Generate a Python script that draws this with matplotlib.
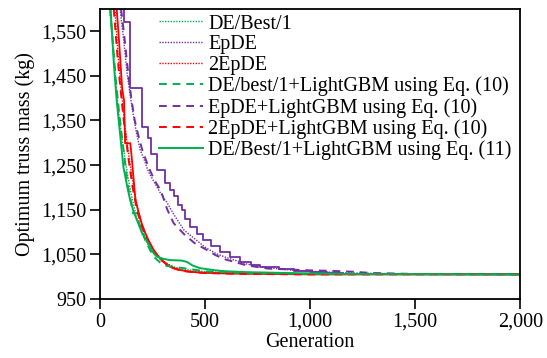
import matplotlib
matplotlib.use("Agg")
import matplotlib.pyplot as plt
from matplotlib.ticker import FuncFormatter

plt.rcParams['font.family'] = ['Liberation Serif', 'DejaVu Serif']

GREEN = '#00B050'
PURPLE = '#7030A0'
RED = '#FF0000'

# DE/Best/1 (green dotted)
de_x = [45, 60, 75, 90, 110, 130, 150, 175, 200, 230, 260, 300, 350, 400, 500, 600, 800, 1000, 1500, 2000]
de_y = [1600, 1520, 1430, 1360, 1290, 1230, 1180, 1130, 1095, 1070, 1050, 1033, 1022, 1016, 1011, 1009, 1007, 1006, 1005, 1005]

# EpDE (purple dotted)
ep_x = [95, 110, 130, 150, 170, 190, 210, 230, 260, 290, 320, 350, 400, 450, 500, 550, 600, 700, 800, 900, 1000, 1200, 1500, 2000]
ep_y = [1600, 1540, 1450, 1385, 1330, 1285, 1262, 1235, 1210, 1185, 1165, 1140, 1104, 1085, 1066, 1052, 1043, 1028, 1020, 1015, 1012, 1008, 1006, 1005]

# 2EpDE (red dotted)
ep2_x = [70, 85, 100, 120, 140, 160, 180, 200, 230, 260, 300, 350, 400, 500, 700, 1000, 2000]
ep2_y = [1600, 1500, 1420, 1330, 1260, 1200, 1150, 1115, 1080, 1055, 1035, 1020, 1013, 1009, 1006, 1005, 1005]

# DE/best/1+LightGBM Eq.(10) (green dashed)
deL_x = [48, 60, 75, 90, 110, 130, 145, 157, 181, 185, 206, 214, 254, 290, 317, 397, 500, 700, 1000, 2000]
deL_y = [1600, 1530, 1440, 1370, 1290, 1210, 1172, 1142, 1142, 1120, 1098, 1082, 1045, 1030, 1024, 1019, 1012, 1008, 1006, 1005]

# EpDE+LightGBM Eq.(10) (purple dashed)
epL_x = [100, 115, 135, 150, 165, 180, 200, 230, 260, 290, 320, 350, 400, 450, 500, 550, 600, 700, 800, 900, 1000, 1100, 1200, 1300, 1500, 2000]
epL_y = [1600, 1540, 1450, 1395, 1350, 1320, 1285, 1246, 1215, 1192, 1150, 1120, 1095, 1075, 1062, 1048, 1038, 1025, 1018, 1016, 1014, 1013, 1011, 1008, 1006, 1005]

# 2EpDE+LightGBM Eq.(10) (red dashed)
ep2L_x = [65, 80, 95, 115, 135, 155, 175, 200, 230, 260, 290, 330, 400, 500, 700, 1000, 2000]
ep2L_y = [1600, 1510, 1430, 1340, 1265, 1200, 1150, 1110, 1075, 1052, 1038, 1022, 1012, 1008, 1006, 1005, 1005]

# DE/Best/1+LightGBM Eq.(11) (green solid)
de11_x = [50, 65, 79, 95, 111, 130, 143, 160, 182, 200, 238, 254, 270, 300, 333, 389, 413, 440, 476, 550, 600, 700, 900, 1200, 2000]
de11_y = [1600, 1480, 1395, 1320, 1246, 1200, 1172, 1145, 1119, 1098, 1067, 1053, 1045, 1040, 1037, 1036, 1033, 1025, 1019, 1014, 1012, 1010, 1008, 1006, 1005]

# EpDE+LightGBM Eq.(11) (purple solid, step curve)
ep11_x = [110, 114, 141, 201, 229, 244, 270, 310, 335, 350, 372, 390, 405, 430, 460, 492, 530, 571, 620, 667, 720, 762, 850, 921, 1000, 1079, 1150, 1250, 2000]
ep11_y = [1600, 1571, 1422, 1336, 1310, 1275, 1240, 1210, 1195, 1180, 1160, 1149, 1130, 1112, 1095, 1082, 1068, 1056, 1045, 1033, 1027, 1022, 1017, 1013, 1011, 1009, 1007, 1006, 1005]

# 2EpDE+LightGBM Eq.(11) (red solid)
ep211_x = [79, 90, 105, 114, 119, 144, 152, 168, 180, 198, 215, 230, 255, 278, 300, 333, 365, 429, 476, 600, 800, 1000, 2000]
ep211_y = [1600, 1530, 1422, 1395, 1299, 1299, 1260, 1172, 1150, 1119, 1098, 1082, 1060, 1045, 1034, 1022, 1016, 1011, 1009, 1007, 1006, 1005, 1005]

fig = plt.figure(figsize=(5.47, 3.58), dpi=100)
ax = fig.add_axes([0.183, 0.165, 0.768, 0.810])

dot = (0, (1, 1))
dash = (0, (4, 3))
ax.plot(ep11_x, ep11_y, color=PURPLE, lw=1.3, drawstyle='steps-post', label='_nolegend_')
ax.plot(ep211_x, ep211_y, color=RED, lw=1.3, label='_nolegend_')
ax.plot(de_x, de_y, color=GREEN, lw=1.0, ls=dot, label='DE/Best/1')
ax.plot(ep_x, ep_y, color=PURPLE, lw=1.0, ls=dot, label='EpDE')
ax.plot(ep2_x, ep2_y, color=RED, lw=1.0, ls=dot, label='2EpDE')
ax.plot(deL_x, deL_y, color=GREEN, lw=1.4, ls=dash, label='DE/best/1+LightGBM using Eq. (10)')
ax.plot(epL_x, epL_y, color=PURPLE, lw=1.4, ls=dash, label='EpDE+LightGBM using Eq. (10)')
ax.plot(ep2L_x, ep2L_y, color=RED, lw=1.4, ls=dash, label='2EpDE+LightGBM using Eq. (10)')
ax.plot(de11_x, de11_y, color=GREEN, lw=1.4, label='DE/Best/1+LightGBM using Eq. (11)')

FS = 14.5
ax.set_xlim(0, 2000)
ax.set_ylim(950, 1600)
ax.set_xticks([0, 500, 1000, 1500, 2000])
ax.set_yticks([950, 1050, 1150, 1250, 1350, 1450, 1550])
fmt = FuncFormatter(lambda v, p: f'{int(v):,}')
ax.xaxis.set_major_formatter(fmt)
ax.yaxis.set_major_formatter(fmt)
ax.tick_params(direction='out', length=7, width=1.2, labelsize=FS, top=False, right=False, pad=3)
for s in ax.spines.values():
    s.set_linewidth(1.3)
ax.set_xlabel('Generation', fontsize=FS, labelpad=1)
ax.set_ylabel('Optimum truss mass (kg)', fontsize=FS, labelpad=4)

leg = ax.legend(loc='upper left', bbox_to_anchor=(0.13, 0.995), frameon=False,
                fontsize=FS, handlelength=2.2, handletextpad=0.25,
                labelspacing=0.08, borderpad=0.2, borderaxespad=0.0)

fig.savefig('out.png', dpi=100)
